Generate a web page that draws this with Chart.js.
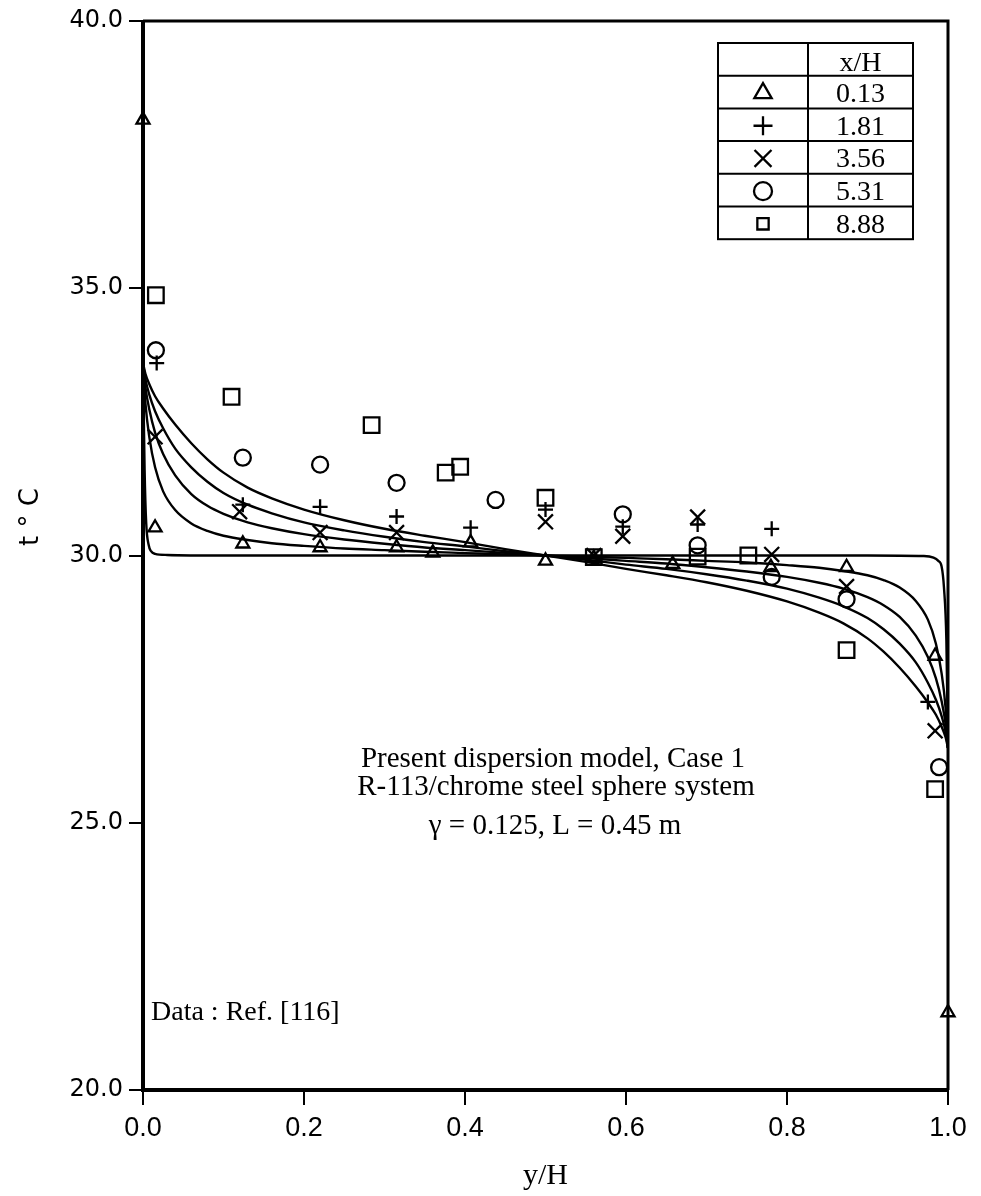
<!DOCTYPE html>
<html>
<head>
<meta charset="utf-8">
<script src="https://cdn.jsdelivr.net/npm/chart.js@4/dist/chart.umd.min.js"></script>
<style>
  html, body { margin: 0; padding: 0; background: #fff; }
</style>
</head>
<body>
<canvas id="chart" width="981" height="1196"></canvas>
<script>
// x/H stations of the measurements
var xhLabels = ['0.13', '1.81', '3.56', '5.31', '8.88'];

// measured temperatures, one pair of arrays per station
var triX = [0.0, 0.015, 0.124, 0.22, 0.315, 0.36, 0.407, 0.5, 0.56, 0.658, 0.78, 0.874, 0.984, 1.0];
var triT = [38.15, 30.52, 30.22, 30.15, 30.15, 30.05, 30.24, 29.9, 29.95, 29.84, 29.78, 29.78, 28.12, 21.45];

var plusX = [0.017, 0.124, 0.22, 0.315, 0.407, 0.5, 0.596, 0.689, 0.781, 0.975];
var plusT = [33.6, 30.95, 30.91, 30.73, 30.52, 30.86, 30.54, 30.58, 30.5, 27.26];

var crossX = [0.015, 0.12, 0.22, 0.315, 0.5, 0.56, 0.596, 0.689, 0.781, 0.874, 0.984];
var crossT = [32.22, 30.82, 30.43, 30.43, 30.63, 30.0, 30.36, 30.72, 30.02, 29.42, 26.72];

var circX = [0.016, 0.124, 0.22, 0.315, 0.438, 0.596, 0.689, 0.781, 0.874, 0.989];
var circT = [33.84, 31.83, 31.7, 31.36, 31.04, 30.77, 30.19, 29.6, 29.18, 26.04];

var sqX = [0.016, 0.11, 0.284, 0.376, 0.394, 0.5, 0.56, 0.689, 0.752, 0.874, 0.984];
var sqT = [34.87, 32.97, 32.44, 31.55, 31.66, 31.08, 29.97, 29.98, 30.0, 28.23, 25.63];

// dispersion model profiles
var curveX = [0, 0.003, 0.008, 0.015, 0.025, 0.04, 0.06, 0.08, 0.1, 0.13, 0.16, 0.2, 0.25, 0.3, 0.35, 0.4, 0.45, 0.5,
              0.55, 0.6, 0.65, 0.7, 0.75, 0.8, 0.84, 0.87, 0.9, 0.92, 0.94, 0.96, 0.975, 0.985, 0.992, 0.997, 1.0];
var model1T = [33.6, 33.4, 33.2, 32.98, 32.75, 32.45, 32.1, 31.8, 31.55, 31.27, 31.07, 30.86, 30.66, 30.5, 30.37, 30.25, 30.12, 30.0,
               29.88, 29.75, 29.63, 29.5, 29.34, 29.14, 28.93, 28.73, 28.45, 28.2, 27.9, 27.55, 27.25, 27.02, 26.8, 26.6, 26.4];
var model2T = [33.6, 33.3, 33.0, 32.7, 32.38, 32.0, 31.65, 31.38, 31.17, 30.95, 30.79, 30.62, 30.47, 30.35, 30.25, 30.17, 30.08, 30.0,
               29.92, 29.83, 29.75, 29.65, 29.53, 29.38, 29.21, 29.05, 28.83, 28.62, 28.35, 28.0, 27.62, 27.3, 27.0, 26.7, 26.4];
var model3T = [33.6, 33.15, 32.72, 32.3, 31.9, 31.5, 31.15, 30.93, 30.78, 30.62, 30.51, 30.4, 30.3, 30.22, 30.15, 30.1, 30.05, 30.0,
               29.95, 29.9, 29.85, 29.78, 29.7, 29.6, 29.49, 29.38, 29.22, 29.07, 28.85, 28.5, 28.1, 27.7, 27.28, 26.85, 26.4];
var model4T = [33.6, 32.85, 32.2, 31.65, 31.2, 30.85, 30.6, 30.46, 30.37, 30.29, 30.23, 30.18, 30.13, 30.1, 30.07, 30.045, 30.02, 30.0,
               29.98, 29.955, 29.93, 29.9, 29.87, 29.82, 29.77, 29.71, 29.63, 29.54, 29.4, 29.15, 28.8, 28.35, 27.8, 27.15, 26.4];
var flatX = [0, 0.002, 0.004, 0.007, 0.01, 0.015, 0.03, 0.1, 0.5, 0.9, 0.97, 0.982, 0.988, 0.992, 0.995, 0.998, 1.0];
var flatT = [33.6, 31.6, 30.6, 30.2, 30.08, 30.03, 30.01, 30.0, 30.0, 30.0, 29.99, 29.96, 29.9, 29.8, 29.4, 28.4, 26.4];

var xTicks = [0, 0.2, 0.4, 0.6, 0.8, 1.0];
var yTicks = [20, 25, 30, 35, 40];

function pts(xs, ys) {
  return xs.map(function (x, i) { return { x: x, y: ys[i] }; });
}

function modelSet(xs, ys) {
  return {
    data: pts(xs, ys), showLine: true, pointRadius: 0, borderColor: '#000',
    borderWidth: 2.4, cubicInterpolationMode: 'monotone', fill: false
  };
}

function markerSet(xs, ys, style, r) {
  return {
    data: pts(xs, ys), showLine: false, pointStyle: style, pointRadius: r,
    pointBorderColor: '#000', pointBackgroundColor: 'rgba(0,0,0,0)',
    pointBorderWidth: 2.3, clip: false
  };
}

var styles = [['triangle', 7.5], ['cross', 7.5], ['crossRot', 10.5], ['circle', 8], ['rect', 11]];
var serif = '"Liberation Serif", "Times New Roman", serif';

// frame, x/H table, axis title and the text notes
var extras = {
  id: 'extras',
  afterDraw: function (chart) {
    var ctx = chart.ctx, a = chart.chartArea;
    ctx.save();
    ctx.strokeStyle = '#000';
    ctx.lineWidth = 4;
    ctx.beginPath();
    ctx.moveTo(a.left, a.top); ctx.lineTo(a.left, a.bottom); ctx.lineTo(a.right, a.bottom);
    ctx.stroke();
    ctx.lineWidth = 3;
    ctx.beginPath();
    ctx.moveTo(a.left, a.top); ctx.lineTo(a.right, a.top); ctx.lineTo(a.right, a.bottom);
    ctx.stroke();

    // table of symbols
    var tl = 718, tr = 913, tm = 808, tt = 43, rh = 32.7;
    ctx.lineWidth = 2;
    ctx.strokeRect(tl, tt, tr - tl, rh * 6);
    ctx.beginPath();
    ctx.moveTo(tm, tt); ctx.lineTo(tm, tt + rh * 6);
    for (var i = 1; i < 6; i++) { ctx.moveTo(tl, tt + rh * i); ctx.lineTo(tr, tt + rh * i); }
    ctx.stroke();
    ctx.font = '28px ' + serif;
    ctx.textAlign = 'center';
    ctx.textBaseline = 'alphabetic';
    ctx.fillStyle = '#000';
    ctx.fillText('x/H', (tm + tr) / 2, tt + rh - 5);
    var legendSizes = [10, 9.5, 12, 9, 8];
    for (var j = 0; j < 5; j++) {
      var cy = tt + rh * (j + 1.5);
      ctx.fillStyle = '#000';
      ctx.fillText(xhLabels[j], (tm + tr) / 2, cy + 10);
      ctx.fillStyle = '#fff';
      ctx.lineWidth = 2.3;
      Chart.helpers.drawPoint(ctx, {
        pointStyle: styles[j][0], radius: legendSizes[j], rotation: 0, borderWidth: 2.3
      }, (tl + tm) / 2, cy + 1);
    }

    ctx.fillStyle = '#000';
    ctx.font = '29px ' + serif;
    ctx.textAlign = 'center';
    ctx.fillText('Present dispersion model, Case 1', 553, 767);
    ctx.fillText('R-113/chrome steel sphere system', 556, 795);
    ctx.fillText('\u03B3 = 0.125, L = 0.45 m', 555, 834);
    ctx.textAlign = 'left';
    ctx.font = '28px ' + serif;
    ctx.fillText('Data : Ref. [116]', 151, 1020);

    // y axis title
    ctx.translate(31, 517);
    ctx.rotate(-Math.PI / 2);
    ctx.textAlign = 'center';
    ctx.textBaseline = 'middle';
    ctx.font = '26px "DejaVu Sans", sans-serif';
    ctx.fillText('t \u00B0 C', 0, 0);
    ctx.restore();
  }
};

var c = document.getElementById('chart');
var chart = new Chart(c, {
  type: 'scatter',
  data: {
    datasets: [
      modelSet(curveX, model1T),
      modelSet(curveX, model2T),
      modelSet(curveX, model3T),
      modelSet(curveX, model4T),
      modelSet(flatX, flatT),
      markerSet(triX, triT, styles[0][0], styles[0][1]),
      markerSet(plusX, plusT, styles[1][0], styles[1][1]),
      markerSet(crossX, crossT, styles[2][0], styles[2][1]),
      markerSet(circX, circT, styles[3][0], styles[3][1]),
      markerSet(sqX, sqT, styles[4][0], styles[4][1])
    ]
  },
  options: {
    responsive: false,
    animation: false,
    layout: { padding: { left: 0, top: 21, right: 33, bottom: 0 } },
    plugins: { legend: { display: false }, tooltip: { enabled: false } },
    scales: {
      x: {
        type: 'linear', min: 0, max: 1,
        afterBuildTicks: function (s) { s.ticks = xTicks.map(function (v) { return { value: v }; }); },
        afterFit: function (s) { s.height = 106; },
        border: { display: false },
        grid: { drawOnChartArea: false, drawTicks: true, tickLength: 15, color: '#000', lineWidth: 2 },
        ticks: {
          color: '#000', padding: 7, maxRotation: 0,
          font: { family: '"Liberation Sans", sans-serif', size: 27 },
          callback: function (v) { return v.toFixed(1); }
        },
        title: {
          display: true, text: 'y/H', color: '#000', padding: { top: 0, bottom: 2 },
          font: { family: serif, size: 30 }
        }
      },
      y: {
        type: 'linear', min: 20, max: 40,
        afterBuildTicks: function (s) { s.ticks = yTicks.map(function (v) { return { value: v }; }); },
        afterFit: function (s) { s.width = 143; },
        border: { display: false },
        grid: { drawOnChartArea: false, drawTicks: true, tickLength: 14, color: '#000', lineWidth: 2 },
        ticks: {
          color: '#000', padding: 6,
          font: { family: '"DejaVu Sans", sans-serif', size: 24 },
          callback: function (v) { return v.toFixed(1); }
        }
      }
    }
  },
  plugins: [extras]
});
</script>
</body>
</html>
